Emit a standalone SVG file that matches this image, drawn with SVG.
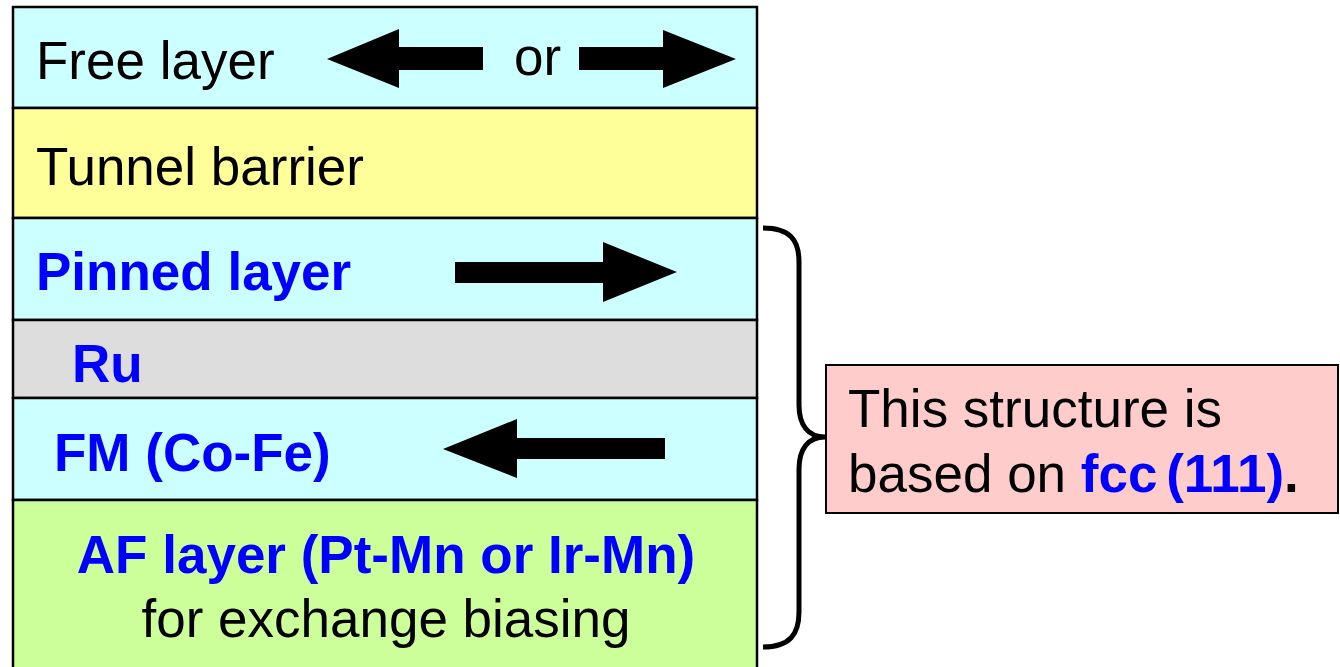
<svg xmlns="http://www.w3.org/2000/svg" width="1340" height="667" viewBox="0 0 1340 667">
<style>
.layer{stroke:#000;stroke-width:2.5}
.t{font-family:"Liberation Sans",Arial,sans-serif;font-size:53px;fill:#000}
.b{font-weight:bold;fill:#0000FF}
.arrow{fill:#000}
</style>
<rect width="1340" height="667" fill="#fff"/>
<g id="free-layer">
<rect class="layer" x="13" y="7" width="744" height="101" fill="#CCFFFF"/>
<text class="t" x="36" y="79">Free layer</text>
<polygon class="arrow" points="327,59 399,29 399,47 483,47 483,70 399,70 399,88"/>
<text class="t" x="514" y="75">or</text>
<polygon class="arrow" points="736,59 663,30 663,47 579,47 579,70 663,70 663,88"/>
</g>
<g id="tunnel-barrier">
<rect class="layer" x="13" y="108" width="744" height="110" fill="#FFFF99"/>
<text class="t" x="36" y="185" font-size="54">Tunnel barrier</text>
</g>
<g id="pinned-layer">
<rect class="layer" x="13" y="218" width="744" height="102" fill="#CCFFFF"/>
<text class="t b" x="36" y="290">Pinned layer</text>
<polygon class="arrow" points="677,272 603,242 603,262 455,262 455,283 603,283 603,302"/>
</g>
<g id="ru">
<rect class="layer" x="13" y="320" width="744" height="78" fill="#DDDDDD"/>
<text class="t b" x="72" y="382">Ru</text>
</g>
<g id="fm">
<rect class="layer" x="13" y="398" width="744" height="102" fill="#CCFFFF"/>
<text class="t b" x="54" y="471">FM (Co-Fe)</text>
<polygon class="arrow" points="443,449 517,419 517,438 665,438 665,459 517,459 517,478"/>
</g>
<g id="af-layer">
<rect class="layer" x="13" y="500" width="744" height="175" fill="#CCFF99"/>
<text class="t b" x="386" y="573" text-anchor="middle">AF layer (Pt-Mn or Ir-Mn)</text>
<text class="t" x="386" y="637" text-anchor="middle">for exchange biasing</text>
</g>
<g id="connectors">
<path d="M763,228 C790,228 799,240 799,262 L799,405 C799,425 808,437 825,437 C808,437 799,449 799,469 L799,612 C799,634 790,647 763,647" fill="none" stroke="#000" stroke-width="5"/>
</g>
<g id="note">
<rect x="826" y="365" width="512" height="148" fill="#FFCCCC" stroke="#000" stroke-width="2"/>
<text class="t" x="848" y="427">This structure is</text>
<text class="t" x="848" y="492">based on <tspan class="b">fcc</tspan><tspan class="b" dx="-6"> (111)</tspan><tspan font-weight="bold">.</tspan></text>
</g>
</svg>
